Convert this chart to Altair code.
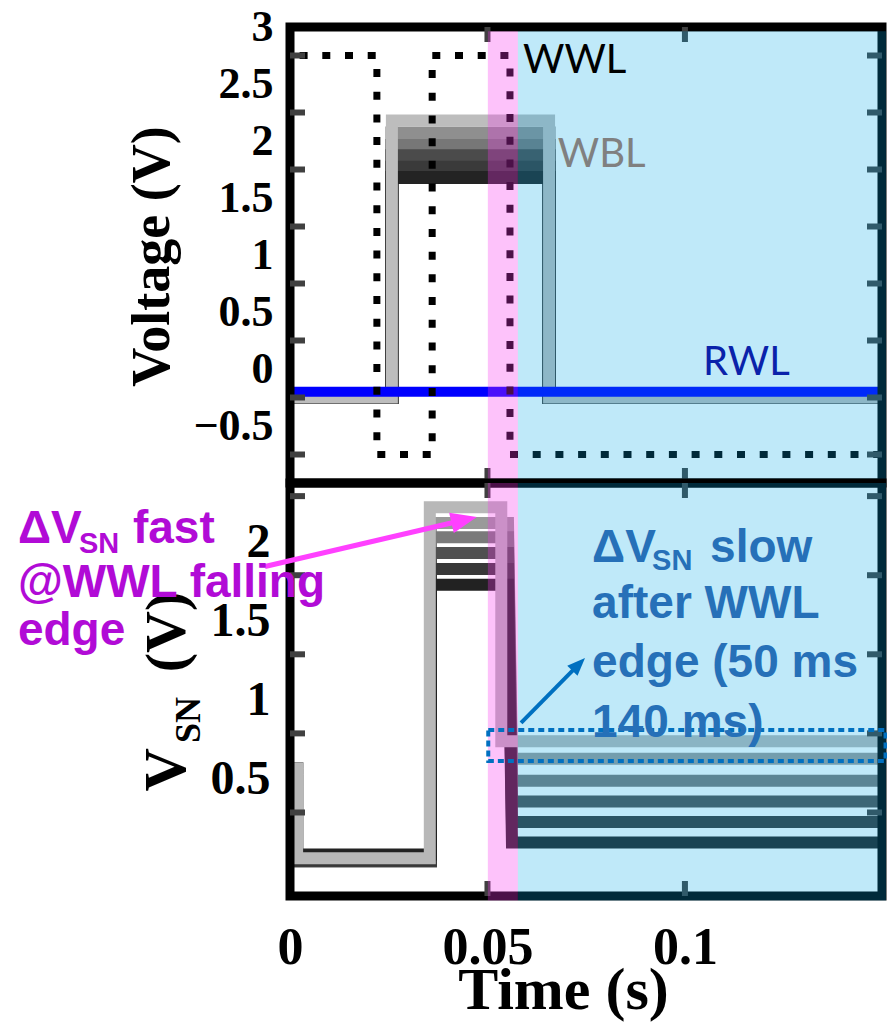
import altair as alt
import pandas as pd

# ---------------- scales / labels ----------------
T_MAX = 0.1499
TOP_DOMAIN = [-1.0, 3.0]
BOT_DOMAIN = [-0.238, 2.373]
TOP_TICK_LABELS = [-0.5, 0, 0.5, 1, 1.5, 2, 2.5, 3]
BOT_TICK_LABELS = [0.5, 1, 1.5, 2]
X_TICK_LABELS = [0, 0.05, 0.1]

# inward tick marks (frame decorations)
TOP_YTICKS = [2.75, 2.25, 1.75, 1.25, 0.75, 0.25, -0.25, -0.75]
BOT_YTICKS = [2.29, 1.79, 1.29, 0.79, 0.29]
XTICKS = [0.05, 0.1]

# ---------------- top panel data ----------------
WWL_T = [0, 0, 0.022, 0.022, 0.036, 0.036, 0.0557, 0.0557, T_MAX]
WWL_V = [-0.75, 2.75, 2.75, -0.75, -0.75, 2.75, 2.75, -0.75, -0.75]

WBL_T = [0, 0.0258, 0.0258, 0.0656, 0.0656, T_MAX]
WBL_LOW = -0.25
WBL_ENVELOPE = 2.18
WBL_LEVELS = [2.07, 1.96, 1.87, 1.77, 1.68]
WBL_COLORS = ["#8f8f8f", "#777777", "#4b4b4b", "#3a3a3a", "#232323"]

RWL_T = [0, T_MAX]
RWL_V = [-0.2, -0.2]

# ---------------- bottom panel data ----------------
VSN_START = 0.57
VSN_ENV_T = [0, 0.0018, 0.0018, 0.0354, 0.0354, 0.0535, 0.0535, T_MAX]
VSN_ENV_V = [VSN_START, VSN_START, 0.0, 0.0, 2.22, 2.22, 0.74, 0.74]
VSN_T = [0, 0.0018, 0.0018, 0.0357, 0.0357, 0.0552, 0.0562, T_MAX]
VSN_LOW = [0.02, 0.015, -0.02, -0.015, 0.025]
VSN_HIGH = [2.12, 2.03, 1.93, 1.83, 1.73]
VSN_FINAL = [0.63, 0.49, 0.36, 0.23, 0.10]
VSN_COLORS = ["#9a9a9a", "#7a7a7a", "#505050", "#383838", "#222222"]

# highlighted time windows
PINK_T = [0.0501, 0.0577]
BLUE_T = [0.0577, 0.1509]

# ---------------- helpers ----------------
XS = alt.Scale(domain=[0, T_MAX], nice=False, zero=False)
SERIF = "Liberation Serif"
SANS = "Liberation Sans"


class Panel:
    def __init__(self, dom, xaxis, yaxis):
        self.dom = dom
        self.xaxis = xaxis
        self.yaxis = yaxis

    def X(self):
        return alt.X("t:Q", scale=XS, axis=self.xaxis)

    def Y(self):
        return alt.Y("v:Q", scale=alt.Scale(domain=self.dom, nice=False, zero=False), axis=self.yaxis)

    def lines(self, df, width, **kw):
        return alt.Chart(df).mark_line(strokeWidth=width, strokeJoin="miter", strokeCap="butt", **kw).encode(
            x=self.X(), y=self.Y(), detail="s:N",
            color=alt.Color("c:N", scale=None), order="i:Q")

    def frame(self):
        df = pd.DataFrame({"t": [0], "t2": [T_MAX], "v": [self.dom[0]], "v2": [self.dom[1]]})
        return alt.Chart(df).mark_rect(filled=False, stroke="black", strokeWidth=9).encode(
            x=self.X(), x2="t2", y=self.Y(), y2="v2")

    def ticks(self, yticks, px_per_unit):
        lx = 15 / 3950.0
        ly = 15 / px_per_unit
        d0, d1 = self.dom
        rows = []
        for v in yticks:
            rows.append((0, lx, v, v))
            rows.append((T_MAX, T_MAX - lx, v, v))
        for t in XTICKS:
            rows.append((t, t, d1, d1 - ly))
            rows.append((t, t, d0, d0 + ly))
        df = pd.DataFrame(rows, columns=["t", "t2", "v", "v2"])
        return alt.Chart(df).mark_rule(color="#404040", strokeWidth=6).encode(
            x=self.X(), x2="t2", y=self.Y(), y2="v2")

    def bands(self, lo, hi):
        df = pd.DataFrame({
            "t": [PINK_T[0], BLUE_T[0]], "t2": [PINK_T[1], BLUE_T[1]],
            "v": [lo, lo], "v2": [hi, hi],
            "c": ["#f735f0", "#00a8e8"], "o": [0.30, 0.25]})
        return alt.Chart(df).mark_rect(strokeWidth=0).encode(
            x=self.X(), x2="t2", y=self.Y(), y2="v2",
            color=alt.Color("c:N", scale=None), opacity=alt.Opacity("o:Q", scale=None))

    def text(self, df, color, size, dx=0, font=SANS, weight="bold"):
        return alt.Chart(df).mark_text(align="left", baseline="alphabetic", font=font, fontWeight=weight,
                                       fontSize=size, color=color, dx=dx).encode(
            x=self.X(), y=self.Y(), text="label:N")


def step_df(ts, vs, name, color):
    return pd.DataFrame({"t": ts, "v": vs, "i": range(len(ts)), "s": name, "c": color})


# ---------------- top panel ----------------
top_yaxis = alt.Axis(values=TOP_TICK_LABELS, format="~g", labelFont=SERIF, labelFontWeight="bold",
                     labelFontSize=44, labelColor="black", labelPadding=17, labelFlush=False,
                     ticks=False, domain=False, grid=False, labelOverlap=False,
                     title="Voltage (V)", titleFont=SERIF, titleFontWeight="bold", titleFontSize=54,
                     titleColor="black", titleAngle=270, titleX=-138, titleY=229,
                     titleAlign="center", titleBaseline="middle")
P1 = Panel(TOP_DOMAIN, None, top_yaxis)

wbl_dark = pd.concat([step_df(WBL_T, [WBL_LOW, WBL_LOW, lv, lv, WBL_LOW, WBL_LOW], f"d{k}", WBL_COLORS[k])
                      for k, lv in enumerate(WBL_LEVELS)])
wbl_env = step_df(WBL_T, [WBL_LOW, WBL_LOW, WBL_ENVELOPE, WBL_ENVELOPE, WBL_LOW, WBL_LOW], "env", "#bdbdbd")
rwl = step_df(RWL_T, RWL_V, "rwl", "#0000ff")
wwl = step_df(WWL_T, WWL_V, "wwl", "black")

top_labels = pd.DataFrame({"t": [0.059, 0.0678, 0.1046], "v": [2.596, 1.772, -0.053],
                           "label": ["WWL", "WBL", "RWL"], "c": ["black", "#808080", "#0a22aa"]})

top = alt.layer(
    P1.lines(wbl_dark, 13),
    P1.lines(wbl_env, 12),
    P1.lines(rwl, 10),
    P1.lines(wwl, 7, strokeDash=[8, 14.7]),
    P1.frame(),
    P1.ticks(TOP_YTICKS, 114.0),
    P1.bands(TOP_DOMAIN[0], 2.962),
    alt.Chart(top_labels).mark_text(align="left", baseline="alphabetic", font="Lato", fontSize=40).encode(
        x=P1.X(), y=P1.Y(), text="label:N", color=alt.Color("c:N", scale=None)),
).properties(width=592, height=456)

# ---------------- bottom panel ----------------
bot_yaxis = alt.Axis(values=BOT_TICK_LABELS, format="~g", labelFont=SERIF, labelFontWeight="bold",
                     labelFontSize=48, labelColor="black", labelPadding=20, labelFlush=False,
                     ticks=False, domain=False, grid=False, labelOverlap=False, title=None)
bot_xaxis = alt.Axis(values=X_TICK_LABELS, format="~g", labelFont=SERIF, labelFontWeight="bold",
                     labelFontSize=52, labelColor="black", labelPadding=67, labelBaseline="alphabetic",
                     labelFlush=False, labelOverlap=False, ticks=False, domain=False, grid=False,
                     title="Time (s)", titleFont=SERIF, titleFontWeight="bold", titleFontSize=60,
                     titleColor="black", titleX=273, titleY=112, titleAlign="center",
                     titleBaseline="alphabetic")
P2 = Panel(BOT_DOMAIN, bot_xaxis, bot_yaxis)

vsn_dark = pd.concat([step_df(VSN_T, [VSN_START, VSN_START, lo, lo, hi, hi, fi, fi], f"d{k}", VSN_COLORS[k])
                      for k, (lo, hi, fi) in enumerate(zip(VSN_LOW, VSN_HIGH, VSN_FINAL))])
vsn_env = step_df(VSN_ENV_T, VSN_ENV_V, "env", "#b8b8b8")

# y-axis title pieces: V, subscript SN, (V)
vsn_title = pd.DataFrame({"t": [-0.02658, -0.02278, -0.02658], "v": [0.559, 0.875, 1.431],
                          "label": ["V", "SN", "(V)"], "fs": [60, 36, 58]})

# annotations
MAG = "#b10bd6"
BLU = "#2670b8"
mag_main = pd.DataFrame({"t": [-0.0689, -0.0689, -0.0689], "v": [1.994, 1.652, 1.349],
                         "label": ["ΔV", "@WWL falling", "edge"]})
mag_fast = pd.DataFrame({"t": [-0.0689], "v": [1.994], "label": ["fast"]})
mag_sub = pd.DataFrame({"t": [-0.0689], "v": [1.931], "label": ["SN"]})
blu_main = pd.DataFrame({"t": [0.0765] * 4, "v": [1.874, 1.520, 1.147, 0.767],
                         "label": ["ΔV", "after WWL", "edge (50 ms", "140 ms)"]})
blu_slow = pd.DataFrame({"t": [0.0765], "v": [1.874], "label": ["slow"]})
blu_sub = pd.DataFrame({"t": [0.0765], "v": [1.823], "label": ["SN"]})

box = pd.DataFrame({"t": [0.0502], "t2": [0.1508], "v": [0.616], "v2": [0.812]})

# arrows: start, tip, shaft fraction, colour, width, head size, head angle
ARROW_START_T = [-0.00633, 0.0585]
ARROW_START_V = [1.845, 0.856]
ARROW_TIP_T = [0.0473, 0.0747]
ARROW_TIP_V = [2.158, 1.267]
ARROW_FRAC = [0.945, 0.89]
ARROW_COLOR = ["#ff40ff", "#0070c0"]
ARROW_WIDTH = [5, 4]
ARROW_HEAD = [676, 324]
ARROW_ANGLE = [346.9, 314.6]

arrows = pd.DataFrame({
    "t": ARROW_START_T, "v": ARROW_START_V,
    "t2": [s + f * (e - s) for s, e, f in zip(ARROW_START_T, ARROW_TIP_T, ARROW_FRAC)],
    "v2": [s + f * (e - s) for s, e, f in zip(ARROW_START_V, ARROW_TIP_V, ARROW_FRAC)],
    "c": ARROW_COLOR, "w": ARROW_WIDTH})
heads = pd.DataFrame({"t": ARROW_TIP_T, "v": ARROW_TIP_V, "c": ARROW_COLOR,
                      "sz": ARROW_HEAD, "a": ARROW_ANGLE})

bottom = alt.layer(
    P2.lines(vsn_dark, 12),
    P2.lines(vsn_env, 12),
    P2.frame(),
    P2.ticks(BOT_YTICKS, 158.2),
    P2.bands(BOT_DOMAIN[0] - 0.028, BOT_DOMAIN[1]),
    alt.Chart(vsn_title).mark_text(align="center", baseline="alphabetic", font=SERIF, fontWeight="bold",
                                   angle=270, color="black").encode(
        x=P2.X(), y=P2.Y(), text="label:N", size=alt.Size("fs:Q", scale=None)),
    alt.Chart(box).mark_rect(filled=False, stroke="#0070c0", strokeWidth=4, strokeDash=[6, 4]).encode(
        x=P2.X(), x2="t2", y=P2.Y(), y2="v2"),
    alt.Chart(arrows).mark_rule(strokeCap="butt").encode(
        x=P2.X(), x2="t2", y=P2.Y(), y2="v2", color=alt.Color("c:N", scale=None),
        strokeWidth=alt.StrokeWidth("w:Q", scale=None)),
    alt.Chart(heads).mark_point(shape="M0,0L-2,-0.8L-2,0.8Z", filled=True, opacity=1).encode(
        x=P2.X(), y=P2.Y(), color=alt.Color("c:N", scale=None), size=alt.Size("sz:Q", scale=None),
        angle=alt.Angle("a:Q", scale=None)),
    P2.text(mag_main, MAG, 46),
    P2.text(mag_fast, MAG, 46, dx=115),
    P2.text(mag_sub, MAG, 29, dx=61),
    P2.text(blu_main, BLU, 46),
    P2.text(blu_slow, BLU, 46, dx=118),
    P2.text(blu_sub, BLU, 29, dx=60),
).properties(width=592, height=413)

# With autosize "none" the concatenated view is placed at the padding origin; the
# bottom padding reserves the room for the stacked panels and the time axis.
chart = alt.vconcat(top, bottom, spacing=0, bounds="flush").resolve_scale(
    x="independent", y="independent"
).properties(
    autosize=alt.AutoSizeParams(type="none"),
    padding={"left": 290, "top": 27, "right": 5, "bottom": 999},
).configure_view(stroke=None)

chart.save("out.html", embed_options={"renderer": "svg", "actions": False})
